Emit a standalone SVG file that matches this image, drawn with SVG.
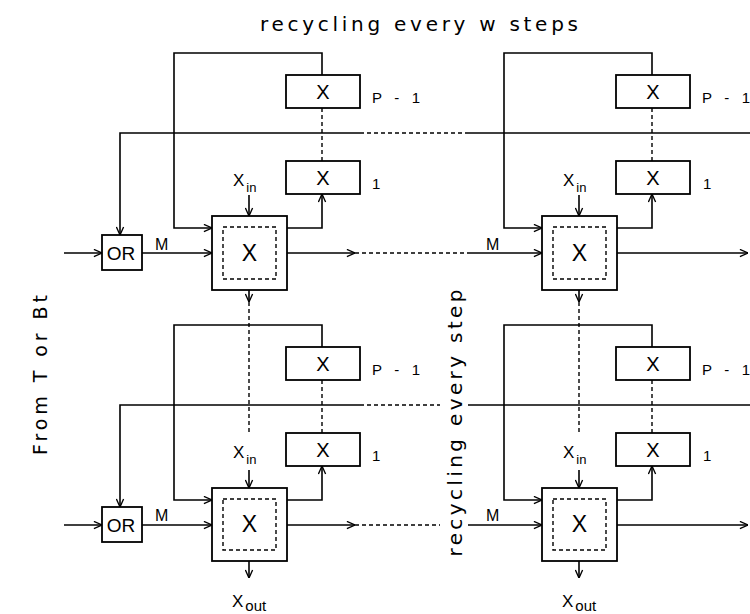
<svg xmlns="http://www.w3.org/2000/svg" width="750" height="614" viewBox="0 0 750 614">
<defs>
<marker id="ah" viewBox="0 0 10 10" refX="9.5" refY="5" markerWidth="9" markerHeight="9" markerUnits="userSpaceOnUse" orient="auto">
<path d="M0.5,1 L9.5,5 L0.5,9" fill="none" stroke="#000" stroke-width="1.5"/>
</marker>
<style>
.ln{fill:none;stroke:#000;stroke-width:1.6}
.ar{fill:none;stroke:#000;stroke-width:1.6;marker-end:url(#ah)}
.ds{fill:none;stroke:#000;stroke-width:1.4;stroke-dasharray:4 3}
.bx{fill:#fff;stroke:#000;stroke-width:1.8}
.inner{fill:none;stroke:#000;stroke-width:1.4;stroke-dasharray:4 3}
text{font-family:"Liberation Sans",Arial,sans-serif;fill:#000}
.bigx{font-size:23px;text-anchor:middle}
.rx{font-size:20px;text-anchor:middle}
.lab{font-size:15px}
.m{font-size:16px}
.sub{font-size:13px}
.osub{font-size:15px}
.xl{font-size:17px}
.ttl{font-family:"DejaVu Sans","Liberation Sans",sans-serif;font-size:20px}
.side{font-family:"DejaVu Sans","Liberation Sans",sans-serif;font-size:19px}
.orl{font-size:19px;text-anchor:middle}
</style>
</defs>
<rect width="750" height="614" fill="#fff"/>

<g id="connectors">
<!-- Row 1, column A -->
<path class="ar" d="M322,75 V53 H174 V228 H212"/>
<path class="ds" d="M322,108 V161"/>
<path class="ar" d="M287,228 H322 V194"/>
<path class="ar" d="M249,195 V216"/>
<path class="ar" d="M64,253 H102"/>
<path class="ar" d="M142,253 H212"/>
<path class="ar" d="M360,133 H120 V235"/>
<path class="ds" d="M360,133 H468"/>
<path class="ln" d="M468,133 H750"/>
<path class="ar" d="M287,253 H355"/>
<path class="ds" d="M355,253 H470"/>
<path class="ar" d="M470,253 H542"/>
<path class="ar" d="M249,290 V302"/>
<path class="ds" d="M249,302 V435"/>
<!-- Row 1, column B -->
<path class="ar" d="M652,75 V53 H504 V228 H542"/>
<path class="ds" d="M652,108 V161"/>
<path class="ar" d="M617,228 H652 V194"/>
<path class="ar" d="M579,195 V216"/>
<path class="ar" d="M617,253 H748"/>
<path class="ar" d="M579,290 V302"/>
<path class="ds" d="M579,302 V435"/>
<!-- Row 2, column A -->
<path class="ar" d="M322,347 V325 H174 V500 H212"/>
<path class="ds" d="M322,380 V433"/>
<path class="ar" d="M287,500 H322 V466"/>
<path class="ar" d="M249,470 V488"/>
<path class="ar" d="M64,525 H102"/>
<path class="ar" d="M142,525 H212"/>
<path class="ar" d="M360,405 H120 V507"/>
<path class="ds" d="M360,405 H440"/>
<path class="ln" d="M468,405 H750"/>
<path class="ar" d="M287,525 H355"/>
<path class="ds" d="M355,525 H440"/>
<path class="ar" d="M468,525 H542"/>
<path class="ar" d="M249,561 V578"/>
<!-- Row 2, column B -->
<path class="ar" d="M652,347 V325 H504 V500 H542"/>
<path class="ds" d="M652,380 V433"/>
<path class="ar" d="M617,500 H652 V466"/>
<path class="ar" d="M579,470 V488"/>
<path class="ar" d="M617,525 H748"/>
<path class="ar" d="M579,561 V578"/>
</g>

<!-- Row 1 nodes -->
<g id="or1"><rect class="bx" x="102" y="235" width="40" height="35"/><text class="orl" x="121" y="260">OR</text></g>
<g id="cellA1"><rect class="bx" x="212" y="216" width="75" height="74"/><rect class="inner" x="223" y="227" width="53" height="52"/><text class="bigx" x="249.5" y="261">X</text></g>
<g id="regA1p"><rect class="bx" x="286" y="75" width="74" height="33"/><text class="rx" x="323" y="99">X</text></g>
<g id="regA11"><rect class="bx" x="286" y="161" width="74" height="33"/><text class="rx" x="323" y="185">X</text></g>
<g id="cellB1"><rect class="bx" x="542" y="216" width="75" height="74"/><rect class="inner" x="553" y="227" width="53" height="52"/><text class="bigx" x="579.5" y="261">X</text></g>
<g id="regB1p"><rect class="bx" x="616" y="75" width="74" height="33"/><text class="rx" x="653" y="99">X</text></g>
<g id="regB11"><rect class="bx" x="616" y="161" width="74" height="33"/><text class="rx" x="653" y="185">X</text></g>

<!-- Row 2 nodes -->
<g id="or2"><rect class="bx" x="102" y="507" width="40" height="35"/><text class="orl" x="121" y="532">OR</text></g>
<g id="cellA2"><rect class="bx" x="212" y="488" width="75" height="73"/><rect class="inner" x="223" y="499" width="53" height="51"/><text class="bigx" x="249.5" y="532">X</text></g>
<g id="regA2p"><rect class="bx" x="286" y="347" width="74" height="33"/><text class="rx" x="323" y="371">X</text></g>
<g id="regA21"><rect class="bx" x="286" y="433" width="74" height="33"/><text class="rx" x="323" y="457">X</text></g>
<g id="cellB2"><rect class="bx" x="542" y="488" width="75" height="73"/><rect class="inner" x="553" y="499" width="53" height="51"/><text class="bigx" x="579.5" y="532">X</text></g>
<g id="regB2p"><rect class="bx" x="616" y="347" width="74" height="33"/><text class="rx" x="653" y="371">X</text></g>
<g id="regB21"><rect class="bx" x="616" y="433" width="74" height="33"/><text class="rx" x="653" y="457">X</text></g>

<g id="labels">
<text class="ttl" x="260" y="31" textLength="318" lengthAdjust="spacing">recycling every w steps</text>
<text class="side" transform="translate(47,375) rotate(-90)" text-anchor="middle" textLength="160" lengthAdjust="spacing">From T or Bt</text>
<text class="ttl" transform="translate(462,423) rotate(-90)" text-anchor="middle" textLength="267" lengthAdjust="spacing">recycling every step</text>

<text class="lab" x="372" y="103" textLength="48" lengthAdjust="spacing">P - 1</text>
<text class="lab" x="372" y="189">1</text>
<text class="lab" x="702" y="103" textLength="48" lengthAdjust="spacing">P - 1</text>
<text class="lab" x="703" y="189">1</text>
<text class="lab" x="372" y="375" textLength="48" lengthAdjust="spacing">P - 1</text>
<text class="lab" x="372" y="461">1</text>
<text class="lab" x="702" y="375" textLength="48" lengthAdjust="spacing">P - 1</text>
<text class="lab" x="703" y="461">1</text>

<text class="m" x="155" y="250">M</text>
<text class="m" x="486" y="250">M</text>
<text class="m" x="155" y="521">M</text>
<text class="m" x="486" y="521">M</text>

<text class="xl" x="233" y="186">X<tspan class="sub" dy="6" dx="2">in</tspan></text>
<text class="xl" x="563" y="186">X<tspan class="sub" dy="6" dx="2">in</tspan></text>
<text class="xl" x="233" y="458">X<tspan class="sub" dy="6" dx="2">in</tspan></text>
<text class="xl" x="563" y="458">X<tspan class="sub" dy="6" dx="2">in</tspan></text>

<text class="xl" x="232" y="607">X<tspan class="osub" dy="4" dx="2">out</tspan></text>
<text class="xl" x="562" y="607">X<tspan class="osub" dy="4" dx="2">out</tspan></text>
</g>
</svg>
